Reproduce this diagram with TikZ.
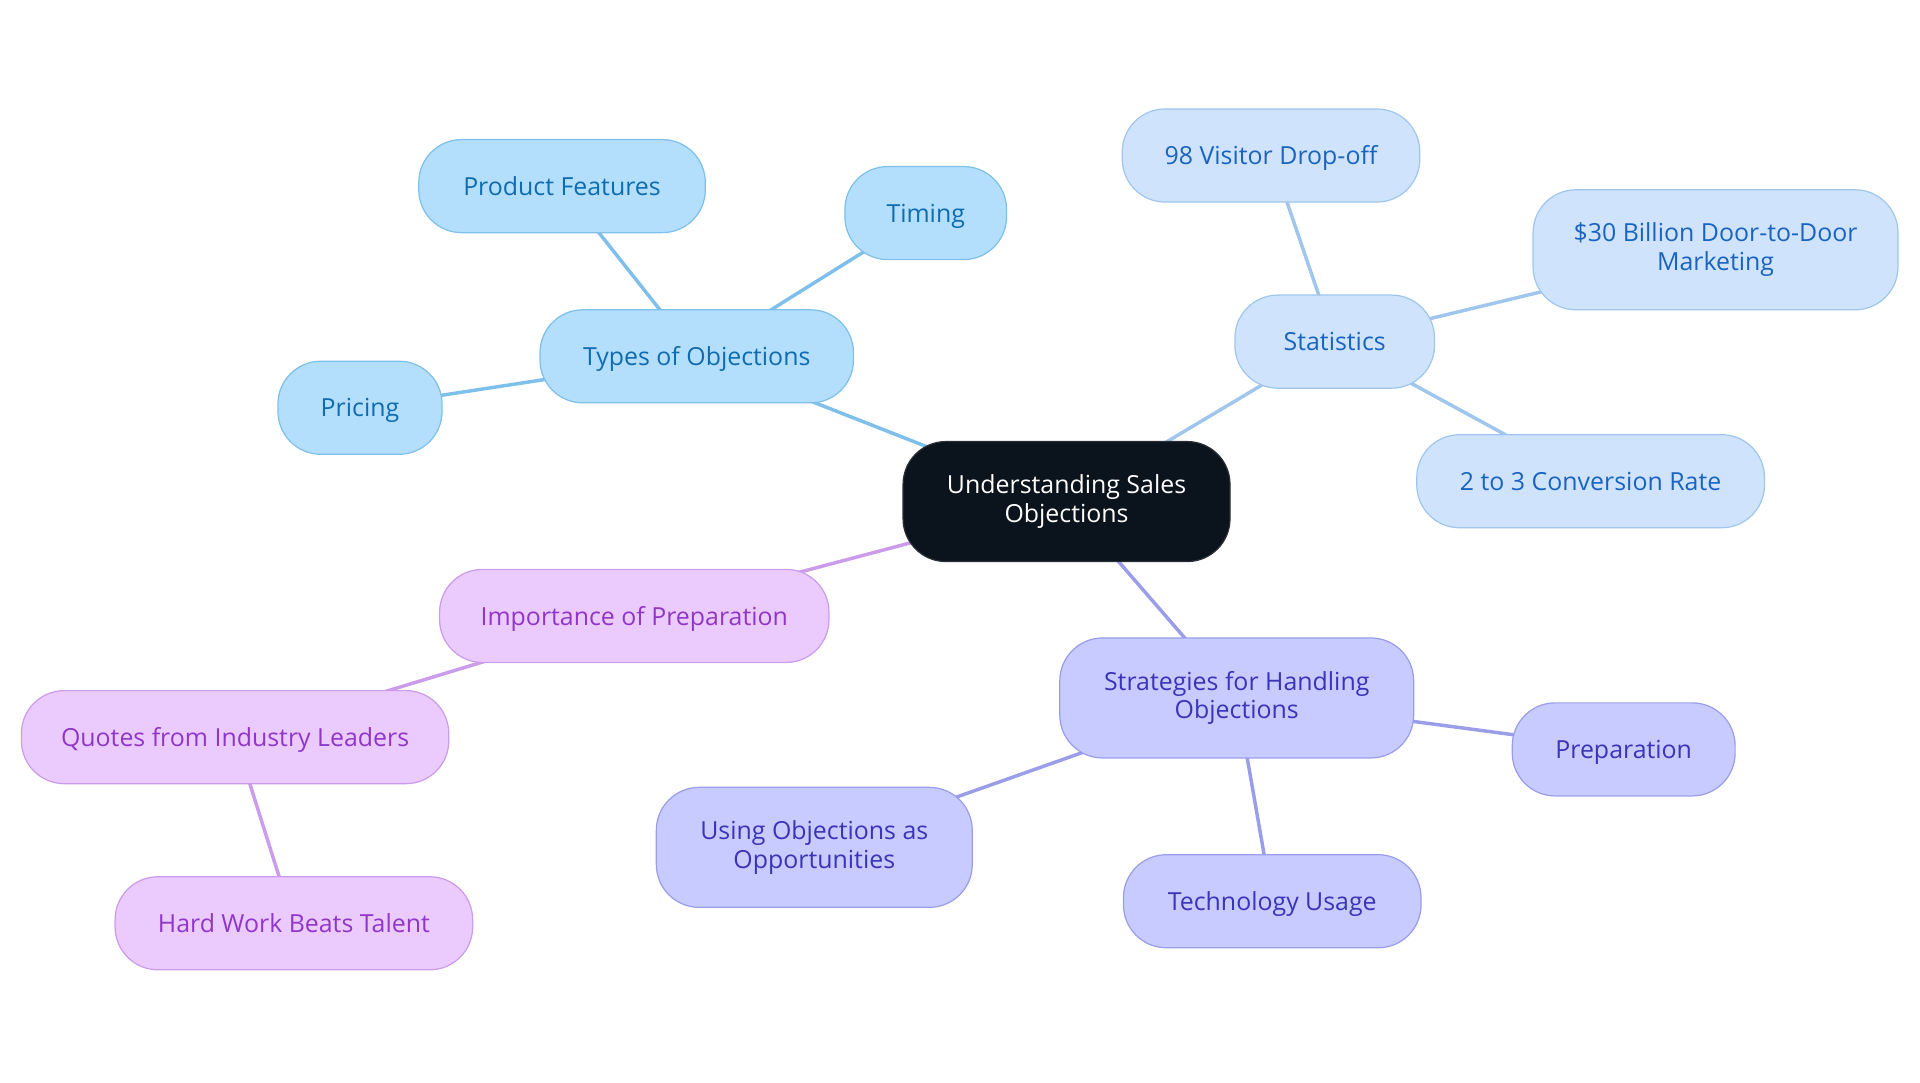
\documentclass[tikz,border=0pt]{standalone}
\usepackage{fontspec}
\setmainfont{Open Sans}
\usetikzlibrary{backgrounds}
\definecolor{tfill}{HTML}{B3DFFD}\definecolor{tdraw}{HTML}{7EC0EA}\definecolor{ttext}{HTML}{0F6CB0}
\definecolor{sfill}{HTML}{CFE4FC}\definecolor{sdraw}{HTML}{A0C6EE}\definecolor{stext}{HTML}{1A64C0}
\definecolor{hfill}{HTML}{C8CBFF}\definecolor{hdraw}{HTML}{9A9EE8}\definecolor{htext}{HTML}{3A34B8}
\definecolor{pfill}{HTML}{EBCBFE}\definecolor{pdraw}{HTML}{CB9CEB}\definecolor{ptext}{HTML}{9036C8}
\definecolor{cfill}{HTML}{0B141C}\definecolor{cdraw}{HTML}{2A2F35}
\tikzset{
  box/.style={rounded corners=21pt, line width=0.6pt, align=center, inner sep=0pt,
    font=\fontsize{12.2}{14}\selectfont, minimum height=45.6pt},
  one/.style={text height=10.6pt, text depth=1.6pt},
  tbox/.style={box, fill=tfill, draw=tdraw, text=ttext},
  sbox/.style={box, fill=sfill, draw=sdraw, text=stext},
  hbox/.style={box, fill=hfill, draw=hdraw, text=htext},
  pbox/.style={box, fill=pfill, draw=pdraw, text=ptext},
  cbox/.style={box, fill=cfill, draw=cdraw, text=white},
  tl/.style={draw=tdraw, line width=1.7pt},
  sl/.style={draw=sdraw, line width=1.7pt},
  hl/.style={draw=hdraw, line width=1.7pt},
  pl/.style={draw=pdraw, line width=1.7pt},
}
\begin{document}
\begin{tikzpicture}[x=0.6pt,y=-0.6pt]
\useasboundingbox (0,0) rectangle (1568,884.4);
\node[cbox, minimum width=160.2pt, minimum height=58.8pt] (c) at (871,409.6) {Understanding Sales\\Objections};
\node[tbox, one, minimum width=153.6pt] (types) at (569,291) {Types of Objections};
\node[tbox, one, minimum width=140.4pt] (feat) at (459,152) {Product Features};
\node[tbox, one, minimum width=79.2pt] (timing) at (756,174) {Timing};
\node[tbox, one, minimum width=80.4pt] (pricing) at (294,333) {Pricing};
\node[sbox, one, minimum width=97.8pt] (stats) at (1090,279) {Statistics};
\node[sbox, one, minimum width=145.8pt] (visitor) at (1038,127) {98 Visitor Drop-off};
\node[sbox, minimum width=178.8pt, minimum height=58.8pt] (billion) at (1401,204) {\$30 Billion Door-to-Door\\Marketing};
\node[sbox, one, minimum width=170.4pt] (conv) at (1299,393) {2 to 3 Conversion Rate};
\node[pbox, one, minimum width=190.8pt] (imp) at (518,503) {Importance of Preparation};
\node[pbox, one, minimum width=209.4pt] (quotes) at (192,602) {Quotes from Industry Leaders};
\node[pbox, one, minimum width=175.2pt] (hard) at (240,754) {Hard Work Beats Talent};
\node[hbox, minimum width=173.4pt, minimum height=58.8pt] (strat) at (1010,570) {Strategies for Handling\\Objections};
\node[hbox, one, minimum width=109.2pt] (prep) at (1326,612) {Preparation};
\node[hbox, minimum width=154.8pt, minimum height=58.8pt] (using) at (665,692) {Using Objections as\\Opportunities};
\node[hbox, one, minimum width=145.8pt] (tech) at (1039,736) {Technology Usage};
\begin{scope}[on background layer]
\draw[tl] (c.center) -- (types.center);
\draw[tl] (types.center) -- (feat.center);
\draw[tl] (types.center) -- (timing.center);
\draw[tl] (types.center) -- (pricing.center);
\draw[sl] (c.center) -- (stats.center);
\draw[sl] (stats.center) -- (visitor.center);
\draw[sl] (stats.center) -- (billion.center);
\draw[sl] (stats.center) -- (conv.center);
\draw[pl] (c.center) -- (imp.center);
\draw[pl] (imp.center) -- (quotes.center);
\draw[pl] (quotes.center) -- (hard.center);
\draw[hl] (c.center) -- (strat.center);
\draw[hl] (strat.center) -- (prep.center);
\draw[hl] (strat.center) -- (using.center);
\draw[hl] (strat.center) -- (tech.center);
\end{scope}
\end{tikzpicture}
\end{document}
